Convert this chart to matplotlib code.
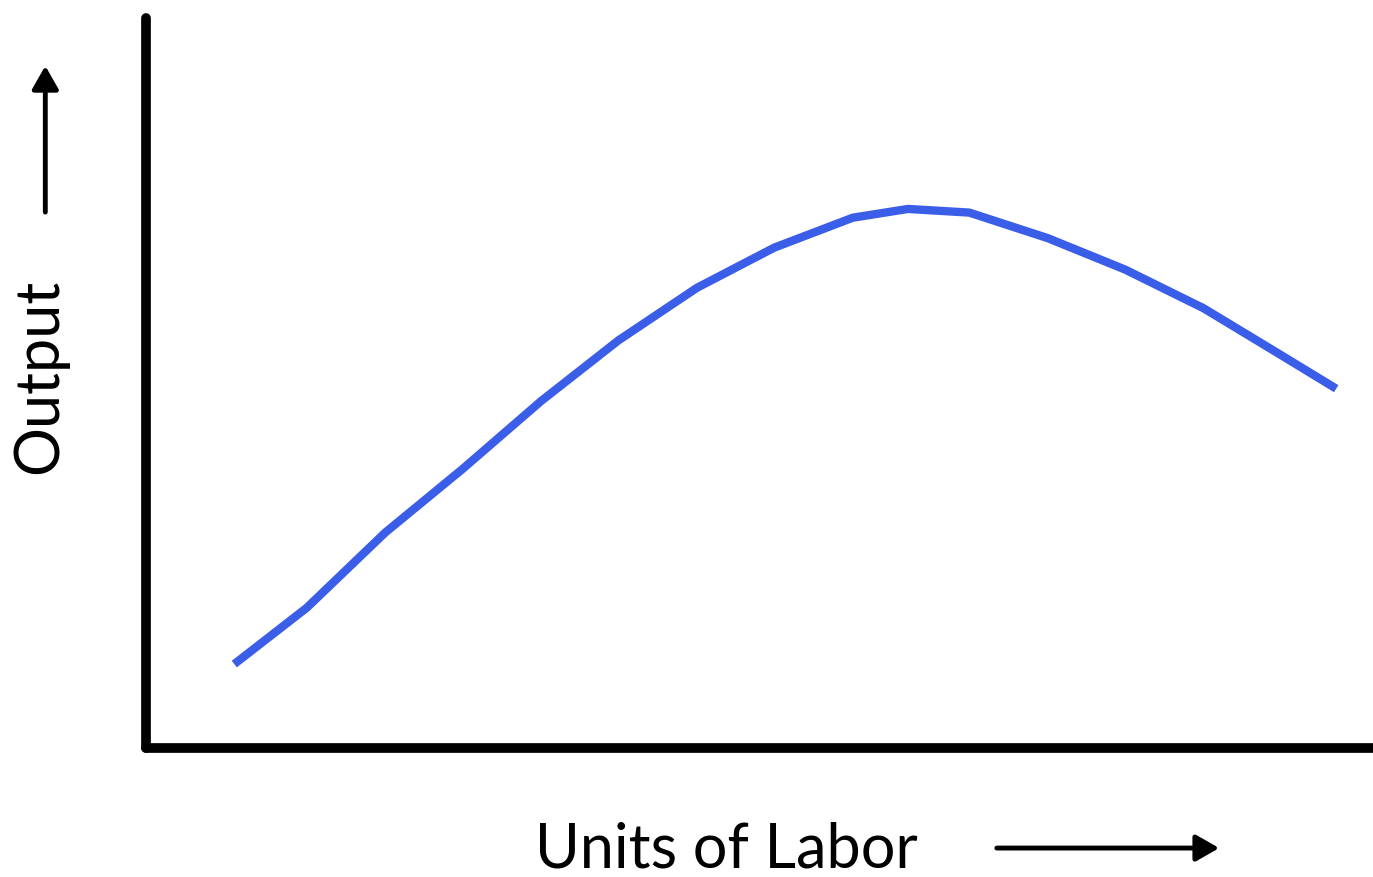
import matplotlib.pyplot as plt
from matplotlib.patches import FancyArrowPatch

# Total product curve (labor units vs output, arbitrary 0-10 scale)
labor = [0.72, 1.31, 1.95, 2.58, 3.22, 3.85, 4.49, 5.12, 5.76, 6.21, 6.71, 7.35, 7.98, 8.62, 9.25, 9.70]
output = [1.15, 1.92, 2.95, 3.82, 4.75, 5.58, 6.30, 6.85, 7.26, 7.38, 7.33, 6.98, 6.55, 6.02, 5.38, 4.92]

x_label = "Units of Labor"
y_label = "Output"

plt.rcParams['font.family'] = ['Lato', 'DejaVu Sans']

fig = plt.figure(figsize=(13.73, 8.77), dpi=100)
ax = fig.add_axes([0.1063, 0.147, 0.8937, 0.833])

ax.plot(labor, output, color='#3b5ee8', linewidth=6, solid_capstyle='butt',
        solid_joinstyle='round')

ax.set_xlim(0, 10)
ax.set_ylim(0, 10)
ax.set_xticks([])
ax.set_yticks([])
for s in ['top', 'right']:
    ax.spines[s].set_visible(False)
for s in ['left', 'bottom']:
    ax.spines[s].set_linewidth(7)
    ax.spines[s].set_capstyle('round')

# axis titles with arrows
fig.text(0.529, 0.011, x_label, fontsize=44, ha='center', va='baseline')
fig.text(0.029, 0.571, y_label, fontsize=44, rotation=90, ha='center', va='center')

fig.patches.append(FancyArrowPatch(
    (0.724, 0.033), (0.890, 0.033), transform=fig.transFigure,
    arrowstyle='-|>,head_length=14,head_width=8', linewidth=3.5, color='black'))
fig.patches.append(FancyArrowPatch(
    (0.033, 0.755), (0.033, 0.928), transform=fig.transFigure,
    arrowstyle='-|>,head_length=14,head_width=8', linewidth=3.5, color='black'))

fig.savefig('out.png', dpi=100)
